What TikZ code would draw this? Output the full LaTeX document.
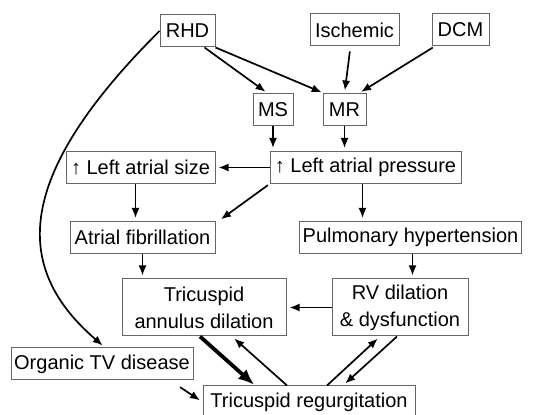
\documentclass[tikz,border=0pt]{standalone}
\usepackage{fontspec}
\setmainfont{Liberation Sans}
\usetikzlibrary{arrows.meta,calc}

\tikzset{
  box/.style={draw=black!60, line width=1pt, fill=white, align=center,
    font=\fontsize{20}{27}\selectfont, inner xsep=3pt, inner ysep=0pt, minimum height=32pt},
  arr/.style={-{Latex[length=10pt,width=8pt]}, line width=1.7pt, shorten >=3pt},
  bigarr/.style={-{Latex[length=16pt,width=13pt]}, line width=3.8pt, shorten >=1pt},
}

\begin{document}
\begin{tikzpicture}[x=1pt,y=1pt]
\useasboundingbox (0,0) rectangle (544,415);

% causes
\node[box, minimum width=55pt] (rhd) at (187.5,384) {RHD};
\node[box, minimum width=89pt] (isch) at (354.5,385) {Ischemic};
\node[box, minimum width=57pt] (dcm) at (460.5,385) {DCM};
\node[box, minimum width=40pt] (ms) at (273,305) {MS};
\node[box, minimum width=43pt] (mr) at (344.5,305) {MR};

% left atrium
\node[box, minimum width=149pt] (las) at (140.5,247.5) {↑ Left atrial size};
\node[box, minimum width=191pt] (lap) at (365.5,247.5) {↑ Left atrial pressure};
\node[box, minimum width=145pt] (af) at (142.5,177.5) {Atrial fibrillation};
\node[box, minimum width=217pt] (ph) at (410.5,177.5) {Pulmonary hypertension};

% right heart
\node[box, minimum width=164pt, minimum height=57pt] (tad) at (204,107.5) {Tricuspid\\annulus dilation};
\node[box, minimum width=136pt, minimum height=57pt] (rv) at (400,107.5) {RV dilation\\\& dysfunction};
\node[box, minimum width=182pt] (otv) at (102,51) {Organic TV disease};
\node[box, minimum width=212pt] (tr) at (309,13) {Tricuspid regurgitation};

\draw[arr] ([xshift=17pt]rhd.south) -- ([xshift=-5pt]ms.north);
\draw[arr] (rhd.south east) -- ([xshift=2pt]mr.north west);
\draw[arr, shorten <=5pt] ([xshift=-4pt]isch.south) -- (mr.north);
\draw[arr, shorten <=2pt] ([xshift=3pt]dcm.south west) -- ([xshift=14pt]mr.north);
\draw[arr] (ms.south) -- (ms.south |- lap.north);
\draw[arr] (mr.south) -- (mr.south |- lap.north);
\draw[arr] (lap.west) -- (las.east);
\draw[arr] ([xshift=-5pt]las.south) -- ([xshift=-5pt]las.south |- af.north);
\draw[arr, shorten <=2pt] (lap.south west) -- ([xshift=3pt]af.north east);
\draw[arr] ([xshift=-3pt]lap.south) -- ([xshift=-3pt]lap.south |- ph.north);
\draw[arr] (af.south) -- (af.south |- tad.north);
\draw[arr] ([xshift=2pt]ph.south) -- ([xshift=2pt]ph.south |- rv.north);
\draw[arr] (rv.west) -- (tad.east);
\draw[arr, shorten <=12pt] ([xshift=68pt]otv.south) -- (tr.west);
\draw[arr] (rhd.west) .. controls (10,235) and (15,145) .. ([xshift=3pt]otv.north);

% feedback loops round TR
\draw[bigarr] ([xshift=-4pt]tad.south) -- ([xshift=-54pt]tr.north);
\draw[arr] ([xshift=-22pt]tr.north) -- ([xshift=28pt]tad.south);
\draw[arr] ([xshift=18pt]tr.north) -- ([xshift=-20pt]rv.south);
\draw[arr] ([xshift=-3pt]rv.south) -- ([xshift=34pt]tr.north);
\end{tikzpicture}
\end{document}
